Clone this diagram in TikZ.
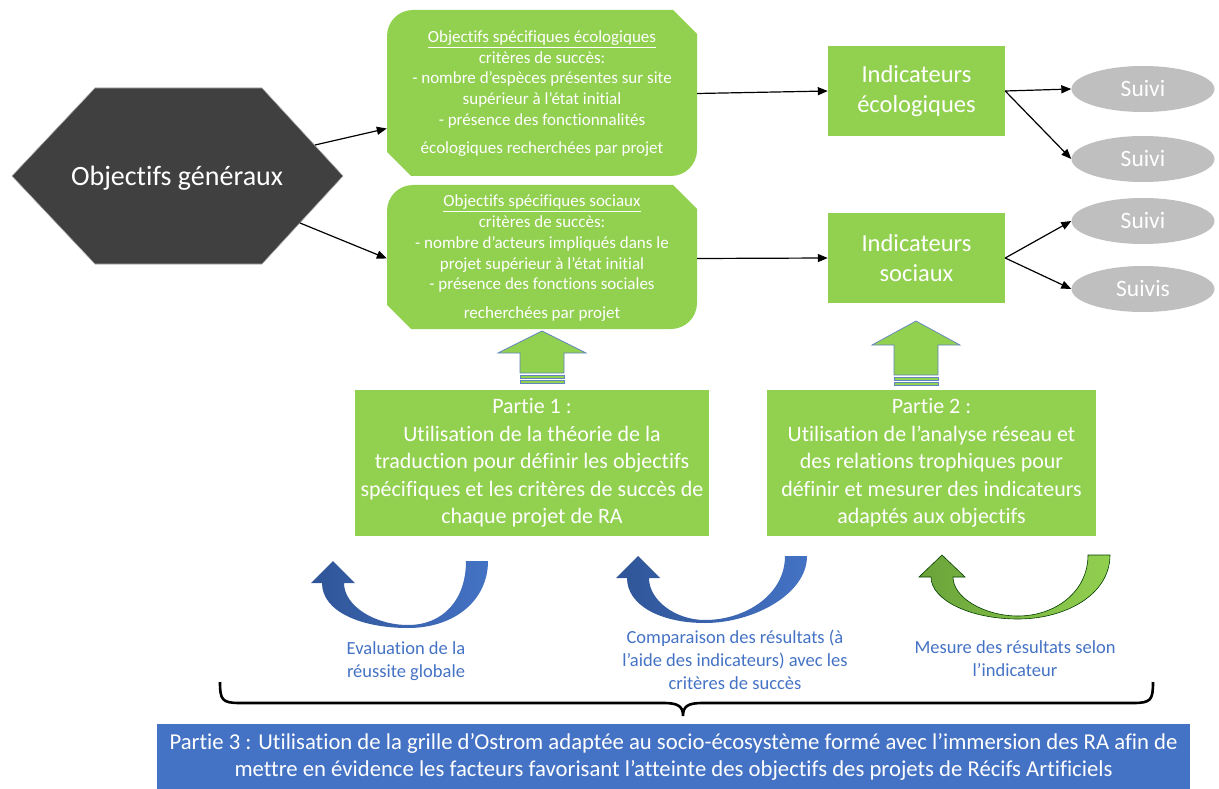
\documentclass[tikz,border=0pt]{standalone}
\usepackage{fontspec}
\setmainfont{Carlito}[Ligatures={NoCommon}]
\usetikzlibrary{arrows.meta,shapes.geometric}
\definecolor{gr}{HTML}{92D050}
\definecolor{dk}{HTML}{404040}
\definecolor{gy}{HTML}{BFBFBF}
\definecolor{bl}{HTML}{4472C4}
\definecolor{dbl}{HTML}{2F5597}
\definecolor{dgr}{HTML}{6AA33A}
\definecolor{arrowline}{HTML}{6185BE}
\begin{document}
\begin{tikzpicture}[x=1pt,y=-1pt,
  arr/.style={-{Triangle[length=10pt,width=8pt]}, line width=1.2pt, black},
  smalltxt/.style={font=\fontsize{17}{20.7}\selectfont, text=white, align=center, inner sep=0pt},
  parttxt/.style={font=\fontsize{22}{27.5}\selectfont, text=white, align=center},
  indtxt/.style={font=\fontsize{24.5}{30}\selectfont, text=white, align=center},
  suivi/.style={ellipse, fill=gy, minimum width=143pt, minimum height=46pt, inner sep=0pt, text=white, font=\fontsize{23.5}{28}\selectfont},
  lab/.style={font=\fontsize{18.5}{23}\selectfont, text=bl, align=center},
  greenbox/.style={fill=gr},
  blockarrow/.style={fill=gr, draw=arrowline, line width=0.7pt},
]
\useasboundingbox (0,0) rectangle (1219,789);

% hexagon
\filldraw[fill=dk, draw=gray!70, line width=0.6pt] (12,176) -- (95,88) -- (262,88) -- (343,176) -- (262,264) -- (95,264) -- cycle;
\node[font=\fontsize{28}{34}\selectfont, text=white] (hex) at (177,178) {Objectifs généraux};
\coordinate (hexA) at (315,145);
\coordinate (hexB) at (300,223);

% green snip/round boxes
\fill[greenbox] (387,36) .. controls (387,21.6) and (398.6,10) .. (413,10) -- (673,10) -- (697,34) -- (697,150) .. controls (697,164.4) and (685.4,176) .. (671,176) -- (411,176) -- (387,152) -- cycle;
\fill[greenbox] (387,211) .. controls (387,196.6) and (398.6,185) .. (413,185) -- (673,185) -- (697,209) -- (697,303) .. controls (697,317.4) and (685.4,329) .. (671,329) -- (411,329) -- (387,305) -- cycle;

\node[smalltxt, minimum width=310pt, minimum height=166pt] (eco) at (542,93.5)
  {\underline{Objectifs spécifiques écologiques}\\critères de succès:\\- nombre d’espèces présentes sur site\\supérieur à l’état initial\\- présence des fonctionnalités\\[7.3pt]écologiques recherchées par projet};
\node[smalltxt, minimum width=310pt, minimum height=144pt] (soc) at (542,258.5)
  {\underline{Objectifs spécifiques sociaux}\\critères de succès:\\- nombre d’acteurs impliqués dans le\\projet supérieur à l’état initial\\- présence des fonctions sociales\\[8.5pt]recherchées par projet};

% indicator boxes
\node[fill=gr, minimum width=177pt, minimum height=90pt, indtxt] (ie) at (916.5,91) {Indicateurs\\écologiques};
\node[fill=gr, minimum width=177pt, minimum height=90pt, indtxt] (is) at (916.5,258) {Indicateurs\\sociaux};

% suivi ellipses
\node[suivi] (s1) at (1143,89) {Suivi};
\node[suivi] (s2) at (1143,159) {Suivi};
\node[suivi] (s3) at (1143,221) {Suivi};
\node[suivi] (s4) at (1143,289) {Suivis};

% arrows
\draw[arr] (hexA) -- ([yshift=-35pt]eco.west);
\draw[arr] (hexB) -- (soc.west);
\draw[arr] (eco.east) -- (ie.west);
\draw[arr] (soc.east) -- (is.west);
\draw[arr] (ie.east) -- (s1.west);
\draw[arr] (ie.east) -- (s2.west);
\draw[arr] (is.east) -- (s3.west);
\draw[arr] (is.east) -- (s4.west);

% partie boxes
\node[fill=gr, minimum width=354pt, minimum height=146pt, parttxt] (p1) at (532,463)
  {Partie 1 :\\Utilisation de la théorie de la\\traduction pour définir les objectifs\\spécifiques et les critères de succès de\\chaque projet de RA};
\node[fill=gr, minimum width=329pt, minimum height=146pt, parttxt] (p2) at (931.5,463)
  {Partie 2 :\\Utilisation de l’analyse réseau et\\des relations trophiques pour\\définir et mesurer des indicateurs\\adaptés aux objectifs};

% block up arrows
\filldraw[blockarrow] (542,331) -- (586,353) -- (564,353) -- (564,373) -- (520,373) -- (520,353) -- (498,353) -- cycle;
\filldraw[blockarrow] (520,375.5) rectangle (564,378.5);
\filldraw[blockarrow] (520,380.5) rectangle (564,383.5);
\filldraw[blockarrow] (916,321) -- (960,345) -- (938,345) -- (938,375) -- (894,375) -- (894,345) -- (872,345) -- cycle;
\filldraw[blockarrow] (894,377.5) rectangle (938,380.5);
\filldraw[blockarrow] (894,382.5) rectangle (938,385.5);

% curved arrows
\shade[left color=dbl, right color=bl] (488,561) .. controls (488,600) and (455,628) .. (408,628)
  .. controls (362,628) and (322,612) .. (322,583)
  -- (311,583) -- (333,561) -- (355,583) -- (344,583)
  .. controls (344,606) and (375,625) .. (408,625)
  .. controls (443,625) and (466,600) .. (466,561) -- cycle;
\shade[left color=dbl, right color=bl] (807,556) .. controls (807,595) and (752,623) .. (705,623)
  .. controls (660,623) and (627,605) .. (627,578)
  -- (616,578) -- (638,556) -- (660,578) -- (649,578)
  .. controls (649,600) and (675,620) .. (705,620)
  .. controls (745,620) and (785,595) .. (785,556) -- cycle;
\shadedraw[left color=dgr, right color=gr, draw=black!60!green!60!black, line width=0.6pt] (1110,555) .. controls (1110,595) and (1065,619) .. (1018,619)
  .. controls (970,619) and (931,600) .. (931,577)
  -- (919,577) -- (942,555) -- (965,577) -- (953,577)
  .. controls (953,598) and (985,616) .. (1018,616)
  .. controls (1055,616) and (1088,592) .. (1088,555) -- cycle;

% labels
\node[lab] (la) at (406,661) {Evaluation de la\\réussite globale};
\node[lab] (lb) at (735,660) {Comparaison des résultats (à\\l’aide des indicateurs) avec les\\critères de succès};
\node[lab] (lc) at (1015,659) {Mesure des résultats selon\\l’indicateur};

% brace
\draw[line width=2.6pt, black] (220,682) .. controls (220,700) and (222,703) .. (240,703) -- (663,703)
  .. controls (678,703) and (683,706) .. (683,716)
  .. controls (683,706) and (688,703) .. (703,703) -- (1133,703)
  .. controls (1151,703) and (1153,700) .. (1153,682);

% partie 3
\node[fill=bl, minimum width=1033pt, minimum height=66pt, parttxt, font=\fontsize{22.7}{27}\selectfont] (p3) at (673.5,757)
  {Partie 3 : Utilisation de la grille d’Ostrom adaptée au socio-écosystème formé avec l’immersion des RA afin de\\mettre en évidence les facteurs favorisant l’atteinte des objectifs des projets de Récifs Artificiels};
\end{tikzpicture}
\end{document}
